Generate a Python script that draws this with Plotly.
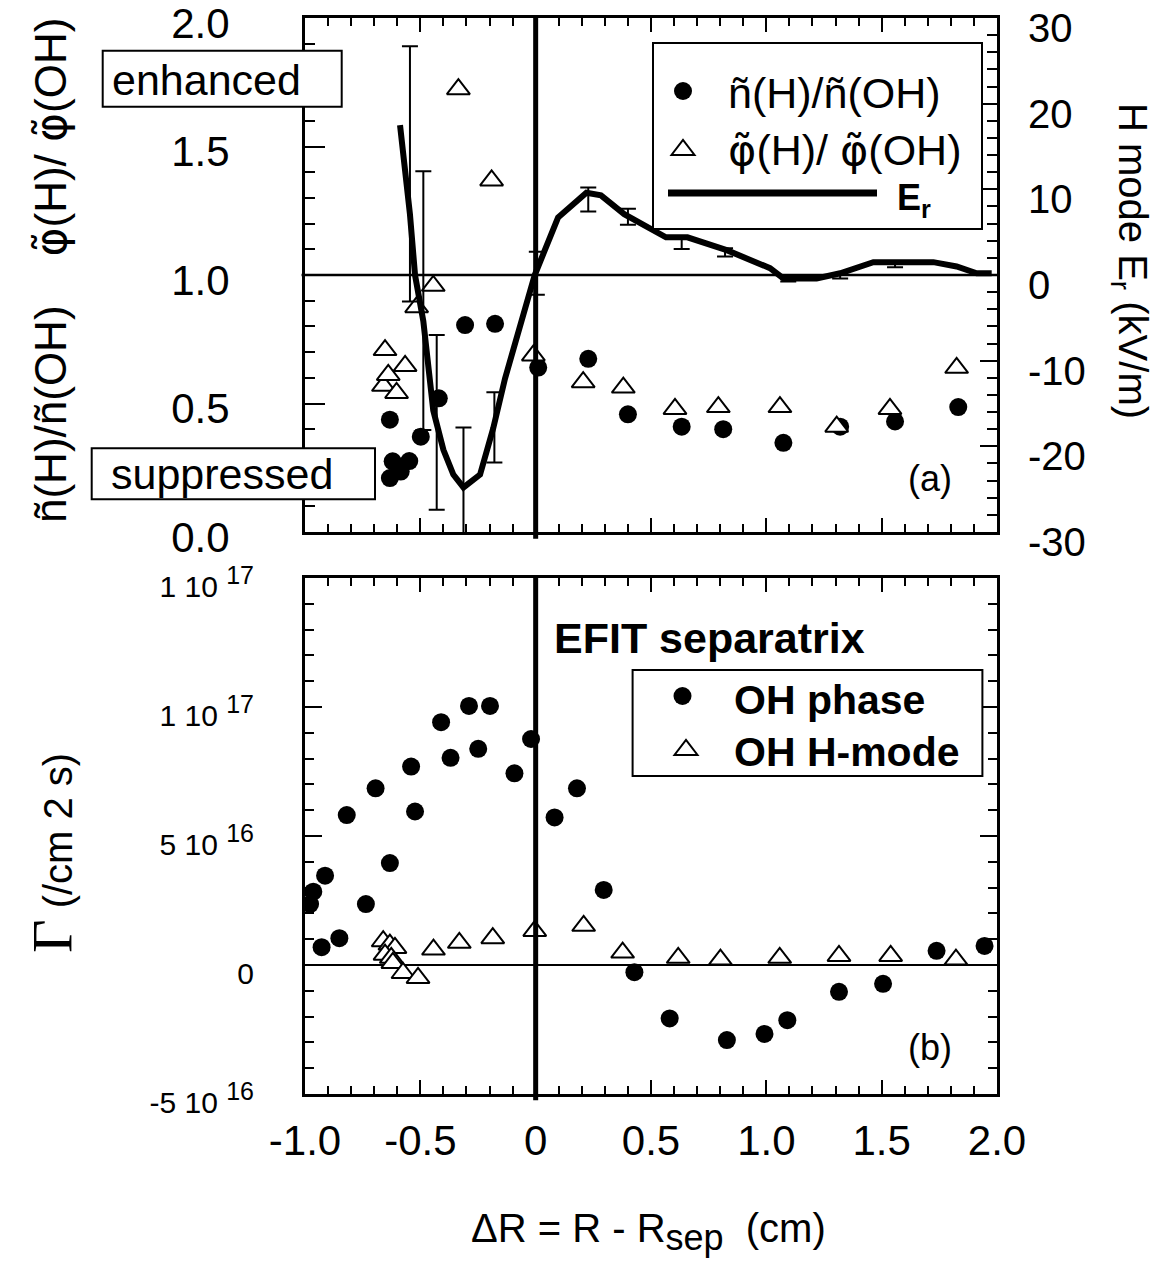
import plotly.graph_objects as go

# ---------------- data ----------------
# panel (a): fluctuation ratios (left axis)
n_ratio_x = [-0.632, -0.62, -0.548, -0.632, -0.585, -0.498, -0.42, -0.306, -0.176, 0.011,
             0.228, 0.40, 0.633, 0.813, 1.074, 1.32, 1.558, 1.832]
n_ratio_y = [0.437, 0.275, 0.276, 0.21, 0.235, 0.371, 0.52, 0.805, 0.81, 0.64,
             0.674, 0.458, 0.41, 0.40, 0.347, 0.41, 0.43, 0.486]

phi_ratio_x = [-0.66, -0.653, -0.639, -0.603, -0.566, -0.516, -0.444, -0.335, -0.191, -0.01,
               0.206, 0.38, 0.604, 0.792, 1.059, 1.305, 1.536, 1.825]
phi_ratio_y = [0.569, 0.708, 0.611, 0.541, 0.646, 0.875, 0.958, 1.723, 1.368, 0.687,
               0.583, 0.562, 0.479, 0.486, 0.486, 0.41, 0.479, 0.639]

# panel (a): H-mode radial electric field (right axis, kV/m)
er_x = [-0.588, -0.545, -0.523, -0.487, -0.444, -0.40, -0.357, -0.313, -0.241, -0.184,
        -0.133, -0.083, -0.004, 0.097, 0.22, 0.283, 0.384, 0.565, 0.658, 0.828,
        0.929, 1.016, 1.074, 1.218, 1.32, 1.464, 1.724, 1.825, 1.912, 1.977]
er_y = [17.5, 7.1, 0.0, -5.4, -15.8, -20.4, -23.3, -24.8, -23.3, -17.9,
        -12.1, -7.5, 0.0, 6.7, 9.6, 9.3, 7.1, 4.4, 4.4, 2.9,
        1.7, 0.8, -0.4, -0.4, 0.2, 1.5, 1.5, 1.0, 0.2, 0.2]

er_err_x = [-0.545, -0.487, -0.429, -0.313, -0.179, 0.005, 0.228, 0.40, 0.633, 0.821, 1.095, 1.32, 1.558]
er_err_y = [11.8, -3.0, -17.2, -24.8, -17.8, 0.2, 8.8, 6.8, 3.7, 2.65, -0.6, -0.1, 1.1]
er_err = [14.9, 15.1, 10.2, 7.0, 4.1, 2.5, 1.4, 0.94, 0.67, 0.48, 0.17, 0.3, 0.2]

# panel (b): particle flux Gamma (/cm^2 s)
oh_phase_x = [-0.978, -0.964, -0.913, -0.928, -0.851, -0.819, -0.736, -0.694, -0.632, -0.54,
              -0.523, -0.41, -0.369, -0.289, -0.249, -0.198, -0.092, -0.02, 0.082, 0.179,
              0.295, 0.428, 0.581, 0.829, 0.992, 1.091, 1.315, 1.506, 1.738, 1.946]
oh_phase_y = [2.36e16, 2.84e16, 3.46e16, 0.69e16, 1.04e16, 5.81e16, 2.36e16, 6.85e16, 3.95e16, 7.69e16,
              5.95e16, 9.41e16, 8.03e16, 10.04e16, 8.38e16, 10.04e16, 7.43e16, 8.76e16, 5.72e16, 6.85e16,
              2.91e16, -0.28e16, -2.07e16, -2.91e16, -2.67e16, -2.14e16, -1.04e16, -0.73e16, 0.55e16, 0.74e16]

oh_hmode_x = [-0.661, -0.632, -0.61, -0.653, -0.626, -0.619, -0.575, -0.51, -0.443, -0.331,
              -0.186, -0.004, 0.208, 0.377, 0.618, 0.801, 1.058, 1.315, 1.539, 1.822]
oh_hmode_y = [0.92e16, 0.79e16, 0.66e16, 0.40e16, 0.28e16, 0.08e16, -0.31e16, -0.50e16, 0.60e16, 0.86e16,
              1.04e16, 1.32e16, 1.52e16, 0.48e16, 0.28e16, 0.21e16, 0.28e16, 0.35e16, 0.35e16, 0.21e16]

# tick labels
x_tick_vals = [-1.0, -0.5, 0.0, 0.5, 1.0, 1.5, 2.0]
x_tick_text = ["-1.0", "-0.5", "0", "0.5", "1.0", "1.5", "2.0"]
ratio_tick_vals = [0.0, 0.5, 1.0, 1.5, 2.0]
ratio_tick_text = ["0.0", "0.5", "1.0", "1.5", "2.0"]
er_tick_vals = [-30, -20, -10, 0, 10, 20, 30]
er_tick_text = ["-30", "-20", "-10", "0", "10", "20", "30"]
flux_tick_vals = [-5e16, 0, 5e16, 1e17, 1.5e17]
SUP = "<sup><span style='font-size:25px'>%s</span></sup>"
flux_tick_text = ["-5 10 " + SUP % "16", "0", "5 10 " + SUP % "16",
                  "1 10 " + SUP % "17", "1 10 " + SUP % "17"]

# ---------------- layout helpers ----------------
W, H = 1159, 1272
L, R, T, B = 305, 997, 18, 1094   # plot area in pixels
FONT = "Liberation Sans, Arial, sans-serif"
PHI = "<span style='font-family:DejaVu Sans'>\u03c6\u0303</span>"


def X(px):
    return (px - L) / (R - L)


def Y(py):
    return (B - py) / (B - T)


top_dom = [Y(532), 1.0]
bot_dom = [0.0, Y(578)]

fig = go.Figure()

circ = dict(symbol="circle", size=18, color="black", line=dict(width=0))
tri = dict(symbol="triangle-up", size=20, color="white", line=dict(color="black", width=2))

fig.add_trace(go.Scatter(x=n_ratio_x, y=n_ratio_y, mode="markers", marker=circ,
                         xaxis="x", yaxis="y", name="n ratio"))
fig.add_trace(go.Scatter(x=phi_ratio_x, y=phi_ratio_y, mode="markers", marker=tri,
                         xaxis="x", yaxis="y", name="phi ratio"))
fig.add_trace(go.Scatter(x=er_x, y=er_y, mode="lines", line=dict(color="black", width=6),
                         xaxis="x", yaxis="y2", name="Er"))
fig.add_trace(go.Scatter(x=er_err_x, y=er_err_y, mode="markers",
                         marker=dict(size=1, color="rgba(0,0,0,0)"),
                         error_y=dict(type="data", array=er_err, color="black", thickness=2, width=8),
                         xaxis="x", yaxis="y2", name="Er err"))
fig.add_trace(go.Scatter(x=oh_phase_x, y=oh_phase_y, mode="markers", marker=circ,
                         xaxis="x2", yaxis="y3", name="OH phase"))
fig.add_trace(go.Scatter(x=oh_hmode_x, y=oh_hmode_y, mode="markers", marker=tri,
                         xaxis="x2", yaxis="y3", name="OH H-mode"))

common_x = dict(range=[-1, 2], tickmode="array", tickvals=x_tick_vals, ticktext=x_tick_text,
                ticks="inside", ticklen=14, tickwidth=2, tickcolor="black",
                minor=dict(ticks="inside", ticklen=8, tickwidth=2, tickcolor="black",
                           tickmode="linear", tick0=-1, dtick=0.1),
                showline=True, linewidth=3, linecolor="black", mirror="ticks",
                showgrid=False, zeroline=False, automargin=False, ticklabeloverflow="allow")

fig.update_layout(
    template="none",
    width=W, height=H,
    margin=dict(l=L, r=W - R, t=T, b=H - B, pad=0, autoexpand=False),
    paper_bgcolor="white", plot_bgcolor="white",
    showlegend=False,
    font=dict(family=FONT, color="black", size=30),
    xaxis=dict(domain=[0, 1], anchor="y", showticklabels=False, **common_x),
    yaxis=dict(domain=top_dom, anchor="x", range=[0, 2], tickmode="array",
               tickvals=ratio_tick_vals, ticktext=ratio_tick_text,
               ticks="inside", ticklen=20, tickwidth=2, tickcolor="black",
               minor=dict(ticks="inside", ticklen=10, tickwidth=2, tickcolor="black",
                          tickmode="linear", tick0=0, dtick=0.1),
               showline=True, linewidth=3, linecolor="black", mirror=False,
               showgrid=False, zeroline=False, automargin=False, ticklabeloverflow="allow",
               tickfont=dict(size=42, family=FONT), ticklabelstandoff=64, ticklabelshift=5),
    yaxis2=dict(overlaying="y", side="right", anchor="x", range=[-30, 30], tickmode="array",
                tickvals=er_tick_vals, ticktext=er_tick_text,
                ticks="inside", ticklen=17, tickwidth=2, tickcolor="black",
                minor=dict(ticks="inside", ticklen=10, tickwidth=2, tickcolor="black",
                           tickmode="linear", tick0=0, dtick=2),
                showline=True, linewidth=3, linecolor="black",
                showgrid=False, zeroline=False, automargin=False, ticklabeloverflow="allow",
                tickfont=dict(size=40, family=FONT), ticklabelstandoff=20, ticklabelshift=10),
    xaxis2=dict(domain=[0, 1], anchor="y3", showticklabels=True,
                tickfont=dict(size=42, family=FONT), ticklabelstandoff=8, **common_x),
    yaxis3=dict(domain=bot_dom, anchor="x2", range=[-5e16, 1.5e17], tickmode="array",
                tickvals=flux_tick_vals, ticktext=flux_tick_text,
                ticks="inside", ticklen=17, tickwidth=2, tickcolor="black",
                minor=dict(ticks="inside", ticklen=9, tickwidth=2, tickcolor="black",
                           tickmode="linear", tick0=0, dtick=1e16),
                showline=True, linewidth=3, linecolor="black", mirror="ticks",
                showgrid=False, zeroline=False, automargin=False, ticklabeloverflow="allow",
                tickfont=dict(size=30, family=FONT), ticklabelstandoff=42, ticklabelshift=8),
)

shapes = []
# separatrix lines and reference lines
shapes.append(dict(type="line", xref="x", yref="y domain", x0=0, x1=0, y0=-0.013, y1=1.006,
                   line=dict(color="black", width=5), layer="above"))
shapes.append(dict(type="line", xref="x2", yref="y3 domain", x0=0, x1=0, y0=-0.012, y1=1.0,
                   line=dict(color="black", width=5), layer="above"))
shapes.append(dict(type="line", xref="x domain", yref="y", x0=-0.005, x1=1, y0=1, y1=1,
                   line=dict(color="black", width=2.5), layer="below"))
shapes.append(dict(type="line", xref="x2 domain", yref="y3", x0=0, x1=1, y0=0, y1=0,
                   line=dict(color="black", width=2), layer="below"))


def rect(x0, y0, x1, y1):
    return dict(type="rect", xref="paper", yref="paper", x0=X(x0), x1=X(x1), y0=Y(y1), y1=Y(y0),
                line=dict(color="black", width=2), fillcolor="white", layer="above")


def circle_glyph(px, py, d=18):
    return dict(type="circle", xref="paper", yref="paper", xsizemode="pixel", ysizemode="pixel",
                xanchor=X(px), yanchor=Y(py), x0=-d / 2, x1=d / 2, y0=-d / 2, y1=d / 2,
                fillcolor="black", line=dict(width=0), layer="above")


def tri_glyph(px, py):
    return dict(type="path", xref="paper", yref="paper", xsizemode="pixel", ysizemode="pixel",
                xanchor=X(px), yanchor=Y(py), path="M-11.5,-5 L11.5,-5 L0,10 Z",
                fillcolor="white", line=dict(color="black", width=2), layer="above")


shapes.append(rect(102.7, 50.7, 341.7, 106.7))      # enhanced
shapes.append(rect(91.7, 448.3, 375, 499.3))        # suppressed
shapes.append(rect(653, 43, 982, 229))              # legend (a)
shapes.append(circle_glyph(683, 91))
shapes.append(tri_glyph(683, 150))
shapes.append(dict(type="line", xref="paper", yref="paper", x0=X(668), x1=X(877), y0=Y(193), y1=Y(193),
                   line=dict(color="black", width=7), layer="above"))
shapes.append(rect(632.6, 670, 982.4, 776))         # legend (b)
shapes.append(circle_glyph(682.5, 696))
shapes.append(tri_glyph(686, 750))
fig.update_layout(shapes=shapes)

anns = []


def ann(text, px, py, size, xanchor="center", yanchor="middle", angle=0, family=FONT):
    anns.append(dict(text=text, x=X(px), y=Y(py), xref="paper", yref="paper",
                     xanchor=xanchor, yanchor=yanchor, textangle=angle, showarrow=False,
                     font=dict(size=size, family=family, color="black")))


NB = "\u00a0"
ann("enhanced", 110, 80, 43, xanchor="left")
ann("suppressed", 109, 474, 43, xanchor="left")
ann("ñ(H)/ñ(OH)", 726, 93, 43, xanchor="left")
ann(PHI + "(H)/" + NB + PHI + "(OH)", 726, 150, 43, xanchor="left")
ann("<b>E<sub>r</sub></b>", 895, 200, 36, xanchor="left")
ann("(a)", 930, 478, 36)
ann("<b>EFIT separatrix</b>", 552, 638, 43, xanchor="left")
ann("<b>OH phase</b>", 732, 700, 41, xanchor="left")
ann("<b>OH H-mode</b>", 732, 752, 41, xanchor="left")
ann("(b)", 930, 1047, 36)
# axis titles
ann("ñ(H)/ñ(OH)" + NB * 4 + PHI + "(H)/" + NB + PHI + "(OH)", 50, 270, 44, angle=-90)
ann("H mode E<sub>r</sub> (kV/m)", 1130, 261, 40, angle=90)
ann("<span style='font-family:Liberation Serif, Times New Roman, serif;font-size:58px'>Γ</span>"
    + NB + "(/cm 2 s)", 52, 853, 40, angle=-90)
ann("ΔR = R - R<sub><span style='font-size:36px'>sep</span></sub>" + NB + NB + "(cm)", 648, 1232, 40)
fig.update_layout(annotations=anns)

fig.write_html("out.html")
